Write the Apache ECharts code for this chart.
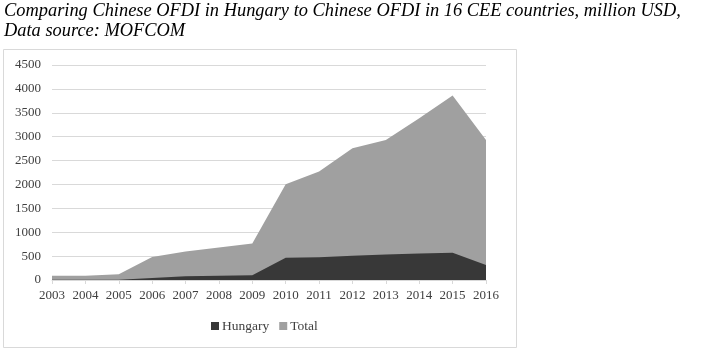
<!DOCTYPE html>
<html><head><meta charset="utf-8">
<script src="https://cdn.jsdelivr.net/npm/echarts@6/dist/echarts.min.js"></script>
<style>html,body{margin:0;padding:0;background:#fff}#c{width:708px;height:356px}</style>
</head><body><div id="c"></div>
<script>
var years = ['2003','2004','2005','2006','2007','2008','2009','2010','2011','2012','2013','2014','2015','2016'];
var hungary = [5.3, 5.4, 2.8, 41.2, 78.2, 88.8, 97.8, 465.7, 475.4, 507.4, 532.4, 556.4, 571.1, 313.7];
var total = [90, 90, 120, 480, 595, 680, 765, 2005, 2270, 2755, 2930, 3385, 3860, 2930];
var yTicks = [0, 500, 1000, 1500, 2000, 2500, 3000, 3500, 4000, 4500];
var titleText = 'Comparing Chinese OFDI in Hungary to Chinese OFDI in 16 CEE countries, million USD,\nData source: MOFCOM';

var chart = echarts.init(document.getElementById('c'), null, {renderer: 'canvas'});
var serif = '"Liberation Serif", "DejaVu Serif", serif';
chart.setOption({
  animation: false,
  backgroundColor: '#fff',
  title: {
    text: titleText, left: 0, top: 1, padding: [0, 0, 0, 4],
    textStyle: {fontFamily: serif, fontStyle: 'italic', fontWeight: 'normal', fontSize: 18.4, color: '#000', lineHeight: 20}
  },
  graphic: [{type: 'rect', shape: {x: 3.5, y: 49.5, width: 513, height: 298}, style: {fill: 'none', stroke: '#d9d9d9', lineWidth: 1}, z: -1}],
  legend: {
    bottom: 18, left: 206, itemWidth: 8, itemHeight: 8, itemGap: 10, icon: 'rect',
    textStyle: {fontFamily: serif, fontSize: 13.5, color: '#404040', padding: [0,0,0,-2]},
    data: ['Hungary', 'Total']
  },
  grid: {left: 52, right: 222, top: 65, bottom: 76},
  xAxis: {
    type: 'category', data: years, boundaryGap: false,
    axisLine: {lineStyle: {color: '#d9d9d9'}},
    axisTick: {show: true, length: 4, lineStyle: {color: '#d9d9d9'}, alignWithLabel: true},
    axisLabel: {fontFamily: serif, fontSize: 13, color: '#404040', margin: 9, interval: 0}
  },
  yAxis: {
    type: 'value', min: 0, max: 4500, interval: 500,
    axisLine: {show: false}, axisTick: {show: false},
    splitLine: {lineStyle: {color: '#d9d9d9'}},
    axisLabel: {fontFamily: serif, fontSize: 13, color: '#404040', margin: 11,
      formatter: function(v){ return yTicks.indexOf(v) >= 0 ? String(v) : ''; }}
  },
  series: [
    {name: 'Total', type: 'line', data: total, symbol: 'none', lineStyle: {width: 0}, itemStyle: {color: '#a0a0a0'}, areaStyle: {color: '#a0a0a0', opacity: 1}, z: 1},
    {name: 'Hungary', type: 'line', data: hungary, symbol: 'none', lineStyle: {width: 0}, itemStyle: {color: '#383838'}, areaStyle: {color: '#383838', opacity: 1}, z: 2}
  ]
});
</script></body></html>
